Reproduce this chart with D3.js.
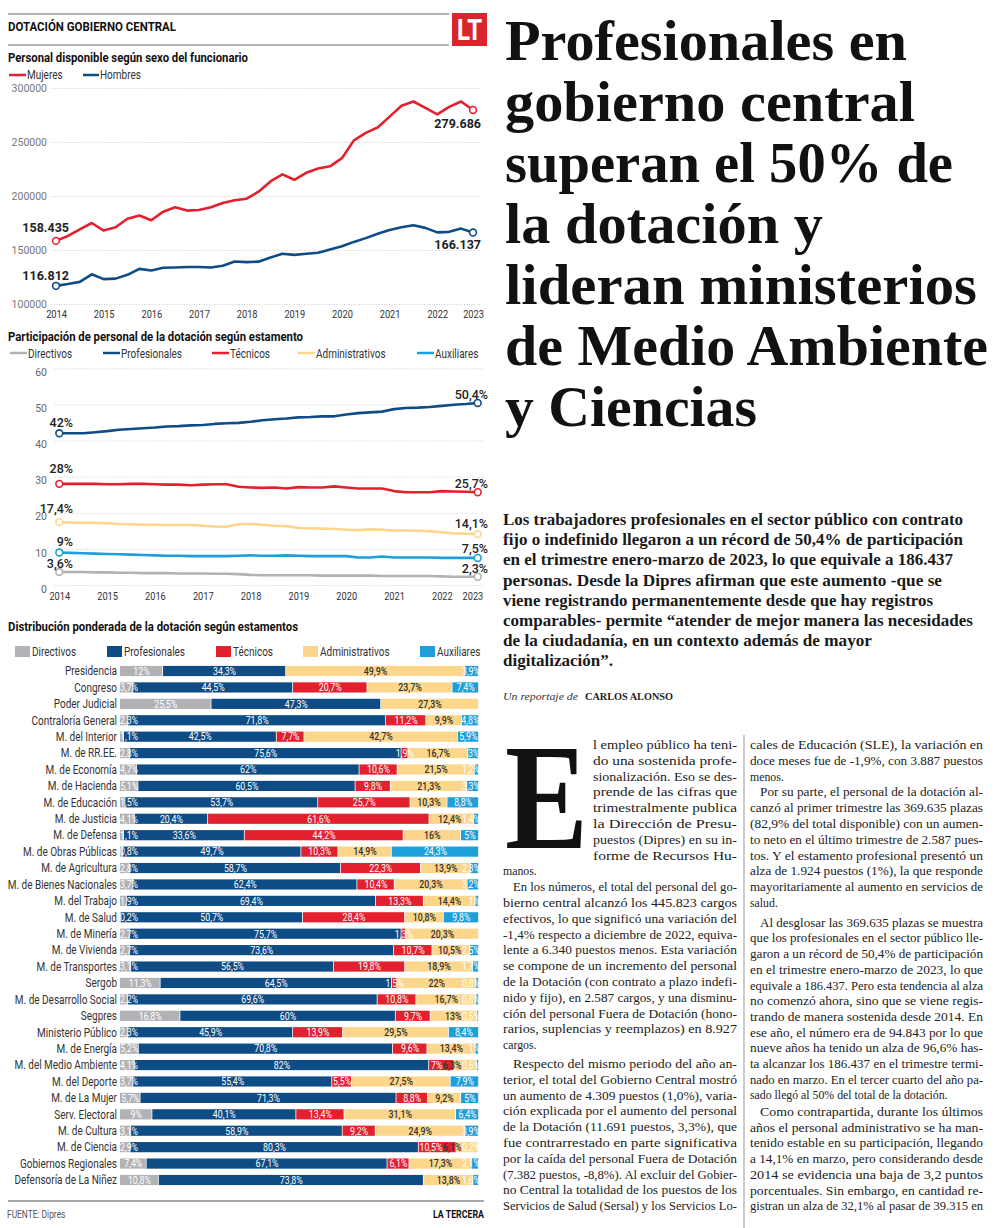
<!DOCTYPE html>
<html><head><meta charset="utf-8">
<script src="https://cdn.jsdelivr.net/npm/d3@7"></script>
<style>body{margin:0;background:#fff;}svg{display:block;}</style>
</head><body>
<svg id="c" width="1000" height="1228"></svg>
<script>
// ---------------- DATA ----------------
const yearLabels = ["2014","2015","2016","2017","2018","2019","2020","2021","2022","2023"];
const yearIdx = [0,4,8,12,16,20,24,28,32,35];
const sexTicks = [100000,150000,200000,250000,300000];
const pctTicks = [0,10,20,30,40,50,60];

const mujeres = [158435,163000,169000,175000,168000,171000,179000,182000,177500,185500,189500,186500,187000,189500,193500,196000,197500,204000,213500,220000,215000,221500,225500,227500,235000,251500,258500,263500,273500,283500,287500,281500,275500,282500,287500,279686];
const hombres = [116812,118500,120500,127500,123000,123500,127000,132500,131000,133500,133800,134300,134200,133800,135500,139300,138800,139200,143000,146500,145500,146500,147500,150500,153500,157500,161000,165000,168500,171000,173000,170500,166300,166800,169800,166137];

const directivos = [3.6,3.6,3.6,3.5,3.5,3.4,3.4,3.3,3.3,3.3,3.2,3.2,3.2,3.1,3.1,3.0,2.8,2.7,2.7,2.7,2.7,2.7,2.6,2.6,2.6,2.6,2.6,2.5,2.5,2.5,2.5,2.5,2.4,2.3,2.3,2.3];
const profesionales = [42.0,42.0,42.0,42.3,42.6,43.0,43.2,43.4,43.6,43.9,44.0,44.2,44.3,44.6,44.8,44.9,45.2,45.6,45.9,46.1,46.4,46.5,46.7,46.7,47.2,47.6,47.8,48.0,48.7,49.0,49.1,49.3,49.6,49.9,50.1,50.4];
const tecnicos = [28.0,28.0,28.0,28.0,27.9,27.9,28.0,28.0,27.9,27.8,27.8,27.6,27.8,27.9,27.9,27.2,27.0,26.9,27.0,26.7,27.1,27.0,27.0,27.3,27.0,26.7,26.7,26.7,26.0,25.7,25.7,25.7,26.0,25.9,25.8,25.7];
const administrativos = [17.4,17.3,17.2,17.2,17.1,16.9,16.8,16.7,16.7,16.6,16.6,16.6,16.4,16.2,16.1,16.8,16.9,16.7,16.4,16.3,15.8,15.7,15.6,15.5,15.3,15.2,15.4,15.3,15.1,15.1,15.0,14.9,14.6,14.3,14.2,14.1];
const auxiliares = [9.0,8.9,8.8,8.7,8.6,8.5,8.4,8.3,8.2,8.1,8.1,8.0,8.0,8.0,8.0,8.1,8.2,8.1,8.1,8.2,8.1,8.0,8.0,8.0,8.0,7.6,7.6,7.9,7.6,7.6,7.6,7.6,7.5,7.5,7.5,7.5];

const categories = ["Presidencia","Congreso","Poder Judicial","Contraloría General","M. del Interior","M. de RR.EE.","M. de Economía","M. de Hacienda","M. de Educación","M. de Justicia","M. de Defensa","M. de Obras Públicas","M. de Agricultura","M. de Bienes Nacionales","M. del Trabajo","M. de Salud","M. de Minería","M. de Vivienda","M. de Transportes","Sergob","M. de Desarrollo Social","Segpres","Ministerio Público","M. de Energía","M. del Medio Ambiente","M. del Deporte","M. de La Mujer","Serv. Electoral","M. de Cultura","M. de Ciencia","Gobiernos Regionales","Defensoría de La Niñez"];
const barDirectivos = [12,3.7,25.5,2.3,1.1,2.8,4.7,5.1,1.5,4.1,1.1,0.8,2.8,3.7,1.9,0.2,2.7,2.7,3.1,11.3,2.2,16.8,2.3,5.2,4.1,3.7,5.7,9,3.1,2.9,7.4,10.8];
const barProfesionales = [34.3,44.5,47.3,71.8,42.5,75.6,62,60.5,53.7,20.4,33.6,49.7,58.7,62.4,69.4,50.7,75.7,73.6,56.5,64.5,69.6,60,45.9,70.8,82,55.4,71.3,40.1,58.9,80.3,67.1,73.8];
const barTecnicos = [0,20.7,0,11.2,7.7,1.9,10.6,9.8,25.7,61.6,44.2,10.3,22.3,10.4,13.3,28.4,1.3,10.7,19.8,1.5,10.8,9.7,13.9,9.6,7,5.5,8.8,13.4,9.2,10.5,6.1,0];
const barAdministrativos = [49.9,23.7,27.3,9.9,42.7,16.7,21.5,21.3,10.3,12.4,16,14.9,13.9,20.3,14.4,10.8,20.3,10.5,18.9,22,16.7,13,29.5,13.4,6.3,27.5,9.2,31.1,24.9,6.1,17.3,13.8];
const barAuxiliares = [3.9,7.4,0,4.8,5.9,3,1.2,3.3,8.8,1.4,5,24.3,2.3,3.2,1,9.8,0,2.5,1.7,0.8,0.8,0.5,8.4,1,0.6,7.9,5,6.4,3.9,0.2,2.1,1.6];

// ---------------- STYLE ----------------
const SANS = "Roboto, 'Noto Sans', sans-serif";
const SERIF = "'Liberation Serif', 'DejaVu Serif', serif";
const CX = 0.8;
const C = {dir:"#b1b2b5", prof:"#0e4c86", tec:"#e2202e", adm:"#fcd68a", aux:"#1e9fda", red:"#e2202e", blue:"#0e4c86"};

const svg = d3.select("#c");
svg.append("rect").attr("width",1000).attr("height",1228).attr("fill","#fff");

function ctext(sel, x, y, str, o = {}) {
  return sel.append("text")
    .attr("transform", `translate(${x},${y}) scale(${o.sx ?? CX},1)`)
    .attr("font-family", o.ff || SANS)
    .attr("font-size", o.fs || 11)
    .attr("font-weight", o.fw || 400)
    .attr("fill", o.fill || "#333")
    .attr("text-anchor", o.anchor || "start")
    .text(str);
}
function ftext(sel, x, y, str, len, o = {}) {
  const t = sel.append("text").attr("x", x).attr("y", y)
    .attr("font-family", o.ff || SANS).attr("font-size", o.fs || 11)
    .attr("font-weight", o.fw || 400).attr("fill", o.fill || "#111")
    .attr("font-style", o.style || "normal")
    .text(str);
  if (len) t.attr("textLength", len).attr("lengthAdjust", "spacingAndGlyphs");
  return t;
}
const fmtPct = v => String(v).replace(".", ",") + "%";

// ---------------- HEADER ----------------
const L = svg.append("g");
L.append("line").attr("x1",8).attr("x2",449).attr("y1",14).attr("y2",14).attr("stroke","#999").attr("stroke-width",1.3);
L.append("line").attr("x1",8).attr("x2",449).attr("y1",45).attr("y2",45).attr("stroke","#999").attr("stroke-width",1.3);
ftext(L, 8, 30.5, "DOTACIÓN GOBIERNO CENTRAL", 168, {fs:12.5, fw:700});
L.append("rect").attr("x",452).attr("y",13).attr("width",35).attr("height",33).attr("fill","#d8262e");
ctext(L, 469.5, 40, "LT", {fs:30, fw:700, fill:"#fff", anchor:"middle", sx:0.8});

// ---------------- CHART 1 ----------------
ftext(L, 8, 62, "Personal disponible según sexo del funcionario", 240, {fs:12.5, fw:700});
L.append("line").attr("x1",9).attr("x2",26).attr("y1",75).attr("y2",75).attr("stroke",C.red).attr("stroke-width",2.5);
ctext(L, 27, 79, "Mujeres", {fs:12.5});
L.append("line").attr("x1",83).attr("x2",99).attr("y1",75).attr("y2",75).attr("stroke",C.blue).attr("stroke-width",2.5);
ctext(L, 100, 79, "Hombres", {fs:12.5});

const x1 = d3.scaleLinear().domain([0, mujeres.length - 1]).range([56, 473]);
const y1 = d3.scaleLinear().domain([100000, 300000]).range([304, 88]);
const g1 = svg.append("g");
g1.append("g").attr("transform","translate(480,0)")
  .call(d3.axisLeft(y1).tickValues(sexTicks).tickSize(430).tickPadding(3).tickFormat(d3.format("d")))
  .call(g => {
    g.select(".domain").remove();
    g.selectAll(".tick line").attr("stroke","#c4c4c4").attr("stroke-dasharray","1,1.5").attr("stroke-width",0.8);
    g.selectAll(".tick text").attr("font-family",SANS).attr("font-size",10.5).attr("fill","#777").attr("dy","0.36em");
  });
g1.append("g").attr("transform","translate(0,311)")
  .call(d3.axisBottom(x1).tickValues(yearIdx).tickSize(0).tickPadding(0).tickFormat((d,i) => yearLabels[i]))
  .call(g => {
    g.select(".domain").remove();
    g.selectAll(".tick text").attr("font-family",SANS).attr("font-size",10.5).attr("fill","#333").attr("transform","scale(0.88,1)");
  });
const line1 = d3.line().x((d,i) => x1(i)).y(d => y1(d));
[[mujeres, C.red], [hombres, C.blue]].forEach(([s, col]) => {
  g1.append("path").datum(s).attr("d", line1).attr("fill","none").attr("stroke",col).attr("stroke-width",2.6).attr("stroke-linejoin","round");
  [0, s.length - 1].forEach(i => g1.append("circle").attr("cx",x1(i)).attr("cy",y1(s[i])).attr("r",3.4).attr("fill","#fff").attr("stroke",col).attr("stroke-width",1.6));
});
const fmtThousands = v => d3.format(",")(v).replace(/,/g, ".");
[[mujeres, -9, 18], [hombres, -6, 16]].forEach(([s, ds, de]) => {
  g1.append("text").attr("x",69).attr("y",y1(s[0]) + ds).attr("text-anchor","end").attr("font-family",SANS).attr("font-size",12.5).attr("font-weight",700).attr("fill","#222").text(fmtThousands(s[0]));
  g1.append("text").attr("x",481).attr("y",y1(s[s.length-1]) + de).attr("text-anchor","end").attr("font-family",SANS).attr("font-size",12.5).attr("font-weight",700).attr("fill","#222").text(fmtThousands(s[s.length-1]));
});

// ---------------- CHART 2 ----------------
ftext(L, 8, 341, "Participación de personal de la dotación según estamento", 295, {fs:12.5, fw:700});
const leg2 = [["Directivos", C.dir, 10], ["Profesionales", C.prof, 103], ["Técnicos", C.tec, 212], ["Administrativos", C.adm, 298], ["Auxiliares", C.aux, 417]];
leg2.forEach(([t, col, x]) => {
  L.append("line").attr("x1",x).attr("x2",x+17).attr("y1",353).attr("y2",353).attr("stroke",col).attr("stroke-width",2.5);
  ctext(L, x + 18, 357.5, t, {fs:12.5});
});
const x2 = d3.scaleLinear().domain([0, profesionales.length - 1]).range([59.3, 477.7]);
const y2 = d3.scaleLinear().domain([0, 60]).range([585, 368.3]);
const g2 = svg.append("g");
g2.append("g").attr("transform","translate(483,0)")
  .call(d3.axisLeft(y2).tickValues(pctTicks).tickSize(430).tickPadding(6))
  .call(g => {
    g.select(".domain").remove();
    g.selectAll(".tick line").attr("stroke","#c4c4c4").attr("stroke-dasharray","1,1.5").attr("stroke-width",0.8);
    g.selectAll(".tick text").attr("font-family",SANS).attr("font-size",10.5).attr("fill","#666").attr("dy","0.36em").attr("y",3.4);
  });
g2.append("g").attr("transform","translate(0,593)")
  .call(d3.axisBottom(x2).tickValues(yearIdx).tickSize(0).tickPadding(0).tickFormat((d,i) => yearLabels[i]))
  .call(g => {
    g.select(".domain").remove();
    g.selectAll(".tick text").attr("font-family",SANS).attr("font-size",10.5).attr("fill","#333").attr("transform","scale(0.88,1)");
    g.selectAll(".tick text").filter((d,i) => i === yearIdx.length - 1).attr("x", -6);
  });
const line2 = d3.line().x((d,i) => x2(i)).y(d => y2(d));
const series2 = [
  [directivos, C.dir, -3.7, -4],
  [auxiliares, C.aux, -6, -4.5],
  [administrativos, C.adm, -9, -6],
  [tecnicos, C.tec, -10.6, -4],
  [profesionales, C.prof, -6.3, -4]
];
series2.forEach(([s, col, ds, de]) => {
  g2.append("path").datum(s).attr("d", line2).attr("fill","none").attr("stroke",col).attr("stroke-width",2.6).attr("stroke-linejoin","round");
  [0, s.length - 1].forEach(i => g2.append("circle").attr("cx",x2(i)).attr("cy",y2(s[i])).attr("r",3.4).attr("fill","#fff").attr("stroke",col).attr("stroke-width",1.6));
  g2.append("text").attr("x",73).attr("y",y2(s[0]) + ds).attr("text-anchor","end").attr("font-family",SANS).attr("font-size",12.5).attr("font-weight",500).attr("fill","#222").text(fmtPct(s[0]));
  g2.append("text").attr("x",488).attr("y",y2(s[s.length-1]) + de).attr("text-anchor","end").attr("font-family",SANS).attr("font-size",12.5).attr("font-weight",500).attr("fill","#222").text(fmtPct(s[s.length-1]));
});

// ---------------- CHART 3 ----------------
ftext(L, 8, 631, "Distribución ponderada de la dotación según estamentos", 290, {fs:12.5, fw:700});
const keys = ["Directivos","Profesionales","Técnicos","Administrativos","Auxiliares"];
const barColors = [C.dir, C.prof, C.tec, C.adm, C.aux];
const leg3x = [15, 107, 216, 303, 420];
keys.forEach((k, i) => {
  L.append("rect").attr("x",leg3x[i]).attr("y",646).attr("width",15).attr("height",11).attr("fill",barColors[i]);
  ctext(L, leg3x[i] + 17, 656, k, {fs:12.5});
});
const table = categories.map((c, i) => ({cat:c, Directivos:barDirectivos[i], Profesionales:barProfesionales[i], "Técnicos":barTecnicos[i], Administrativos:barAdministrativos[i], Auxiliares:barAuxiliares[i]}));
const stacked = d3.stack().keys(keys).offset(d3.stackOffsetExpand)(table);
const x3 = d3.scaleLinear().domain([0, 1]).range([120, 479]);
const y3 = d3.scaleBand().domain(categories).range([662.8, 1188.2]).paddingInner(0.38).paddingOuter(0.19);
const g3 = svg.append("g");
categories.forEach(c => ctext(g3, 117, y3(c) + y3.bandwidth()/2 + 4.3, c, {fs:12.5, anchor:"end", fill:"#333"}));
stacked.forEach((s, k) => {
  g3.append("g").selectAll("rect").data(s).join("rect")
    .attr("x", d => x3(d[0])).attr("y", d => y3(d.data.cat))
    .attr("width", d => Math.max(0, x3(d[1]) - x3(d[0]) - 0.8))
    .attr("height", y3.bandwidth()).attr("fill", barColors[k]);
});
const lab3 = g3.append("g");
table.forEach((row, j) => {
  const segs = [];
  stacked.forEach((s, k) => {
    const v = row[keys[k]];
    if (v > 0) segs.push({k, v, x0:x3(s[j][0]), x1:x3(s[j][1])});
  });
  const cy = y3(row.cat) + y3.bandwidth()/2 + 3.8;
  segs.forEach(sg => {
    sg.t = lab3.append("text").attr("font-family",SANS).attr("font-size",11)
      .attr("font-weight", sg.k === 3 ? 500 : 400)
      .attr("fill", sg.k === 3 ? "#333" : "#fff").attr("text-anchor","middle").text(fmtPct(sg.v));
    sg.w = sg.t.node().getComputedTextLength() * CX;
    sg.c = (sg.x0 + sg.x1) / 2;
  });
  if (segs.length && segs[0].c - segs[0].w/2 < 120) segs[0].c = 120 + segs[0].w/2;
  let maxR = 480;
  for (let i = segs.length - 1; i >= 0; i--) {
    const sg = segs[i];
    if (sg.c + sg.w/2 > maxR) sg.c = maxR - sg.w/2;
    maxR = sg.c - sg.w/2 - 0.5;
  }
  segs.forEach(sg => sg.t.attr("transform", `translate(${sg.c},${cy}) scale(${CX},1)`));
});

// footer
L.append("line").attr("x1",8).attr("x2",484).attr("y1",1201).attr("y2",1201).attr("stroke","#8a8a8a").attr("stroke-width",1.5);
ctext(L, 7, 1217.5, "FUENTE: Dipres", {fs:10.5, fill:"#555"});
ctext(L, 484, 1217.5, "LA TERCERA", {fs:11, fw:700, fill:"#111", anchor:"end"});

// ---------------- ARTICLE ----------------
const A = svg.append("g");
const headline = ["Profesionales en","gobierno central","superan el 50% de","la dotación y","lideran ministerios","de Medio Ambiente","y Ciencias"];
const headW = [402, 410, 448, 318, 472, 483, 252];
headline.forEach((t, i) => ftext(A, 505, 60 + i * 61, t, headW[i], {ff:SERIF, fs:57, fw:700, fill:"#111"}));

const deck = ["Los trabajadores profesionales en el sector público con contrato",
 "fijo o indefinido llegaron a un récord de 50,4% de participación",
 "en el trimestre enero-marzo de 2023, lo que equivale a 186.437",
 "personas. Desde la Dipres afirman que este aumento -que se",
 "viene registrando permanentemente desde que hay registros",
 "comparables- permite “atender de mejor manera las necesidades",
 "de la ciudadanía, en un contexto además de mayor",
 "digitalización”."];
const deckW = [460, 460, 450, 439, 430, 470, 369, 110];
deck.forEach((t, i) => ftext(A, 503, 525 + i * 20.2, t, deckW[i], {ff:SERIF, fs:16.5, fw:700, fill:"#1a1a1a"}));

ftext(A, 503, 700, "Un reportaje de", 75, {ff:SERIF, fs:10.5, style:"italic", fill:"#333"});
ftext(A, 585, 700, "CARLOS ALONSO", 88, {ff:SERIF, fs:10, fw:700, fill:"#222"});

// drop cap
ftext(A, 505, 848, "E", 83, {ff:SERIF, fs:150, fw:700, fill:"#111"});

const col1 = ["l empleo público ha teni-","do una sostenida profe-","sionalización. Eso se des-","prende de las cifras que","trimestralmente publica","la Dirección de Presu-","puestos (Dipres) en su in-","forme de Recursos Hu-","manos.",
 "En los números, el total del personal del go-","bierno central alcanzó los 445.823 cargos","efectivos, lo que significó una variación del","-1,4% respecto a diciembre de 2022, equiva-","lente a 6.340 puestos menos. Esta variación","se compone de un incremento del personal","de la Dotación (con contrato a plazo indefi-","nido y fijo), en 2.587 cargos, y una disminu-","ción del personal Fuera de Dotación (hono-","rarios, suplencias y reemplazos) en 8.927","cargos.",
 "Respecto del mismo periodo del año an-","terior, el total del Gobierno Central mostró","un aumento de 4.309 puestos (1,0%), varia-","ción explicada por el aumento del personal","de la Dotación (11.691 puestos, 3,3%), que","fue contrarrestado en parte significativa","por la caída del personal Fuera de Dotación","(7.382 puestos, -8,8%). Al excluir del Gobier-","no Central la totalidad de los puestos de los","Servicios de Salud (Sersal) y los Servicios Lo-"];
const col2 = ["cales de Educación (SLE), la variación en","doce meses fue de -1,9%, con 3.887 puestos","menos.",
 "Por su parte, el personal de la dotación al-","canzó al primer trimestre las 369.635 plazas","(82,9% del total disponible) con un aumen-","to neto en el último trimestre de 2.587 pues-","tos. Y el estamento profesional presentó un","alza de 1.924 puestos (1%), la que responde","mayoritariamente al aumento en servicios de","salud.",
 "Al desglosar las 369.635 plazas se muestra","que los profesionales en el sector público lle-","garon a un récord de 50,4% de participación","en el trimestre enero-marzo de 2023, lo que","equivale a 186.437. Pero esta tendencia al alza","no comenzó ahora, sino que se viene regis-","trando de manera sostenida desde 2014. En","ese año, el número era de 94.843 por lo que","nueve años ha tenido un alza de 96,6% has-","ta alcanzar los 186.437 en el trimestre termi-","nado en marzo. En el tercer cuarto del año pa-","sado llegó al 50% del total de la dotación.",
 "Como contrapartida, durante los últimos","años el personal administrativo se ha man-","tenido estable en su participación, llegando","a 14,1% en marzo, pero considerando desde","2014 se evidencia una baja de 3,2 puntos","porcentuales. Sin embargo, en cantidad re-","gistran un alza de 32,1% al pasar de 39.315 en"];

function bodyCol(lines, left, right, yFn, lastLines, indents, dropLines, dropX) {
  lines.forEach((t, k) => {
    let x = left;
    if (dropLines.includes(k)) x = dropX;
    if (indents.includes(k)) x = left + 10;
    const y = yFn(k);
    const tt = ftext(A, x, y, t, null, {ff:SERIF, fs:11.8, fill:"#222"});
    if (!lastLines.includes(k)) tt.attr("textLength", right - x).attr("lengthAdjust","spacingAndGlyphs");
  });
}
bodyCol(col1, 503, 737, k => k < 20 ? 749 + k * 15.8 : 1068 + (k - 20) * 15.8, [8, 19], [9, 20], [0,1,2,3,4,5,6,7], 593);
bodyCol(col2, 750, 983, k => k < 11 ? 749 + k * 15.8 : k < 23 ? 926.7 + (k - 11) * 15.7 : 1116 + (k - 23) * 15.7, [2, 10, 22], [3, 11, 23], [], 750);
A.append("line").attr("x1",744).attr("x2",744).attr("y1",735).attr("y2",1228).attr("stroke","#999").attr("stroke-width",1);
</script>
</body></html>
